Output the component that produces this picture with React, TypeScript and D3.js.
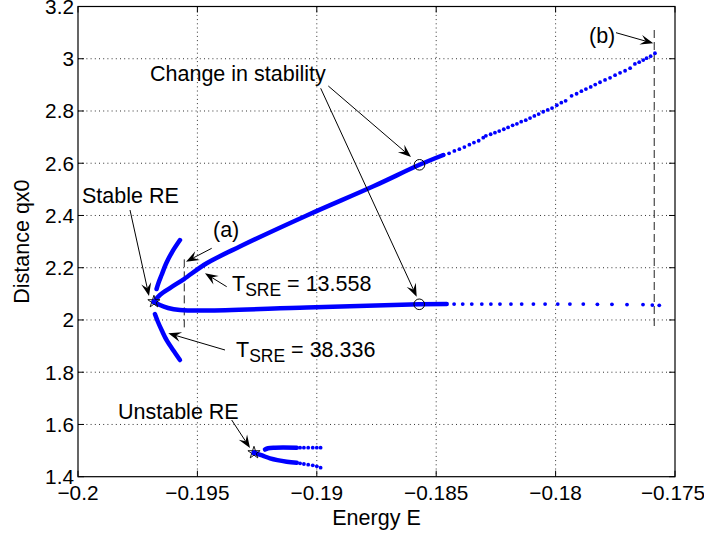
import React from "react";
import * as d3 from "d3";

// ---- axes ----
const xTickValues = [-0.2, -0.195, -0.19, -0.185, -0.18, -0.175];
const xTickLabels = ["\u22120.2", "\u22120.195", "\u22120.19", "\u22120.185", "\u22120.18", "\u22120.175"];
const yTickValues = [1.4, 1.6, 1.8, 2.0, 2.2, 2.4, 2.6, 2.8, 3.0, 3.2];
const yTickLabels = ["1.4", "1.6", "1.8", "2", "2.2", "2.4", "2.6", "2.8", "3", "3.2"];

// ---- stable branch family (continuation from the stable RE) ----
const upperSolidE = [-0.19682, -0.19657, -0.19615, -0.19556, -0.19461, -0.19322, -0.19042, -0.18763, -0.1857, -0.1847];
const upperSolidQ = [2.07, 2.0955, 2.1223, 2.1568, 2.2169, 2.2812, 2.4, 2.5117, 2.594, 2.6315];

const upperDotE = [
  -0.1847, -0.18446, -0.18424, -0.18403, -0.18382, -0.18361, -0.18342, -0.18322, -0.18303, -0.18292,
  -0.18272, -0.18254, -0.18236, -0.18217, -0.18199, -0.1818, -0.18162, -0.18144, -0.18125, -0.18107,
  -0.18089, -0.18071, -0.18052, -0.18033, -0.18015, -0.17995, -0.17976, -0.17958, -0.17933, -0.17912,
  -0.17892, -0.17873, -0.17853, -0.17834, -0.17814, -0.17793, -0.17772, -0.17751, -0.1773, -0.17709,
  -0.17688, -0.17668, -0.1765, -0.17633, -0.17619, -0.17602, -0.17584,
];
const upperDotQ = [
  2.6315, 2.638, 2.647, 2.654, 2.662, 2.671, 2.679, 2.686, 2.698, 2.705,
  2.711, 2.717, 2.723, 2.73, 2.737, 2.745, 2.751, 2.759, 2.765, 2.773,
  2.781, 2.788, 2.797, 2.804, 2.811, 2.822, 2.832, 2.839, 2.858, 2.866,
  2.876, 2.884, 2.892, 2.901, 2.91, 2.919, 2.927, 2.937, 2.946, 2.954,
  2.964, 2.98, 2.987, 2.995, 3.002, 3.01, 3.021,
];

const lowerSolidE = [-0.19682, -0.19657, -0.19623, -0.19573, -0.19461, -0.19042, -0.18571, -0.18456];
const lowerSolidQ = [2.07, 2.057, 2.0458, 2.038, 2.036, 2.0477, 2.06, 2.061];

const lowerDotE = [
  -0.18463, -0.18425, -0.18389, -0.18351, -0.18309, -0.18271, -0.18233, -0.18187, -0.18142, -0.18093,
  -0.18044, -0.17991, -0.1794, -0.17884, -0.17825, -0.17764, -0.17701, -0.17634, -0.17595, -0.17566,
];
const lowerDotQ = [
  2.061, 2.061, 2.061, 2.061, 2.061, 2.061, 2.061, 2.061, 2.061, 2.061,
  2.061, 2.061, 2.061, 2.061, 2.06, 2.06, 2.059, 2.059, 2.057, 2.056,
];

// short arcs either side of the stable RE
const arcUpperE = [-0.19573, -0.19606, -0.19631, -0.1965, -0.19663, -0.19671];
const arcUpperQ = [2.306, 2.26, 2.216, 2.172, 2.1415, 2.1185];
const arcLowerE = [-0.19678, -0.19665, -0.19648, -0.19627, -0.19602, -0.19573];
const arcLowerQ = [2.0228, 1.9922, 1.9577, 1.9195, 1.885, 1.8467];

// ---- unstable RE family ----
const unstUpperSolidE = [-0.19217, -0.19204, -0.19175, -0.19084];
const unstUpperSolidQ = [1.504, 1.509, 1.511, 1.511];
const unstUpperDotE = [-0.1907, -0.19054, -0.19036, -0.19017, -0.19, -0.18984];
const unstUpperDotQ = [1.511, 1.511, 1.511, 1.511, 1.511, 1.511];
const unstLowerSolidE = [-0.19263, -0.19229, -0.19196, -0.19126, -0.19084];
const unstLowerSolidQ = [1.4919, 1.4812, 1.4704, 1.4574, 1.4532];
const unstLowerDotE = [-0.1907, -0.19054, -0.19036, -0.19017, -0.19, -0.18984];
const unstLowerDotQ = [1.4513, 1.4486, 1.4459, 1.4436, 1.4398, 1.4345];

// ---- special points ----
const starE = [-0.19682, -0.19263];
const starQ = [2.07, 1.4919];
const changeE = [-0.1857, -0.18571];
const changeQ = [2.594, 2.06];

// vertical period markers (a) and (b)
const markE = [-0.19555, -0.17587];
const markQlo = [1.9616, 1.974];
const markQhi = [2.232, 3.11];

const W = 704;
const H = 540;
const PLOT = { left: 78, right: 675, top: 6.5, bottom: 476.7 };
const FONT = "'Liberation Sans', Arial, Helvetica, sans-serif";
const FS = 21.5;
const TICK_FS = 20.8;
const BLUE = "#0000ff";

type Pt = [number, number];
const zip = (a: number[], b: number[]): Pt[] => a.map((v, i) => [v, b[i]]);

function Arrow({ x1, y1, x2, y2 }: { x1: number; y1: number; x2: number; y2: number }) {
  const len = 13;
  const half = 5;
  const notch = 0.62;
  const ang = Math.atan2(y2 - y1, x2 - x1);
  const c = Math.cos(ang);
  const s = Math.sin(ang);
  const pt = (back: number, side: number) => [x2 - back * c - side * s, y2 - back * s + side * c];
  const b1 = pt(len, half);
  const b2 = pt(len, -half);
  const nb = pt(len * notch, 0);
  return (
    <g>
      <line x1={x1} y1={y1} x2={nb[0]} y2={nb[1]} stroke="#000" strokeWidth={1} />
      <path d={`M${x2},${y2}L${b1[0]},${b1[1]}L${nb[0]},${nb[1]}L${b2[0]},${b2[1]}Z`} fill="#000" />
    </g>
  );
}

export default function App() {
  const x = d3.scaleLinear().domain([-0.2, -0.175]).range([PLOT.left, PLOT.right]);
  const y = d3.scaleLinear().domain([1.4, 3.2]).range([PLOT.bottom, PLOT.top]);
  const line = d3
    .line<Pt>()
    .x((d) => x(d[0]))
    .y((d) => y(d[1]))
    .curve(d3.curveCatmullRom.alpha(0.5));

  const solidSets: Pt[][] = [
    zip(upperSolidE, upperSolidQ),
    zip(lowerSolidE, lowerSolidQ),
    zip(arcUpperE, arcUpperQ),
    zip(arcLowerE, arcLowerQ),
    zip(unstUpperSolidE, unstUpperSolidQ),
    zip(unstLowerSolidE, unstLowerSolidQ),
  ];
  const dotSets: Pt[][] = [
    zip(upperDotE, upperDotQ),
    zip(lowerDotE, lowerDotQ),
    zip(unstUpperDotE, unstUpperDotQ),
    zip(unstLowerDotE, unstLowerDotQ),
  ];

  const star = d3.symbol(d3.symbolStar, 46)();
  const tickLen = 6;

  return (
    <svg
      width={W}
      height={H}
      viewBox={`0 0 ${W} ${H}`}
      style={{ position: "absolute", left: 0, top: 0, background: "#fff" }}
      fontFamily={FONT}
    >
      <rect x={0} y={0} width={W} height={H} fill="#fff" />

      {/* grid */}
      <g stroke="#333" strokeWidth={1} strokeDasharray="1 3.2">
        {xTickValues.slice(1, -1).map((v) => (
          <line key={`gx${v}`} x1={x(v)} x2={x(v)} y1={PLOT.top} y2={PLOT.bottom} />
        ))}
        {yTickValues.slice(1, -1).map((v) => (
          <line key={`gy${v}`} x1={PLOT.left} x2={PLOT.right} y1={y(v)} y2={y(v)} />
        ))}
      </g>

      {/* ticks on all four sides, pointing inward */}
      <g stroke="#000" strokeWidth={1}>
        {xTickValues.map((v) => (
          <g key={`tx${v}`}>
            <line x1={x(v)} x2={x(v)} y1={PLOT.bottom} y2={PLOT.bottom - tickLen} />
            <line x1={x(v)} x2={x(v)} y1={PLOT.top} y2={PLOT.top + tickLen} />
          </g>
        ))}
        {yTickValues.map((v) => (
          <g key={`ty${v}`}>
            <line x1={PLOT.left} x2={PLOT.left + tickLen} y1={y(v)} y2={y(v)} />
            <line x1={PLOT.right} x2={PLOT.right - tickLen} y1={y(v)} y2={y(v)} />
          </g>
        ))}
      </g>

      {/* period markers */}
      <g stroke="#222" strokeWidth={1} strokeDasharray="8 4">
        {markE.map((e, i) => (
          <line key={`m${i}`} x1={x(e)} x2={x(e)} y1={y(markQhi[i])} y2={y(markQlo[i])} />
        ))}
      </g>

      {/* branches */}
      <g fill="none" stroke={BLUE} strokeWidth={4.5} strokeLinecap="round" strokeLinejoin="round">
        {solidSets.map((s, i) => (
          <path key={`s${i}`} d={line(s) ?? ""} />
        ))}
      </g>
      <g fill={BLUE}>
        {dotSets.map((s, i) =>
          s.map((d, j) => <circle key={`d${i}-${j}`} cx={x(d[0])} cy={y(d[1])} r={1.9} />)
        )}
      </g>

      {/* relative equilibria */}
      {starE.map((e, i) => (
        <g key={`st${i}`} transform={`translate(${x(e)},${y(starQ[i])})`}>
          <circle r={2.6} fill={BLUE} />
          <path d={star ?? ""} fill="none" stroke="#000" strokeWidth={0.9} />
        </g>
      ))}

      {/* stability change points */}
      {changeE.map((e, i) => (
        <circle key={`c${i}`} cx={x(e)} cy={y(changeQ[i])} r={5.3} fill="none" stroke="#000" strokeWidth={1} />
      ))}

      {/* axes box */}
      <rect
        x={PLOT.left}
        y={PLOT.top}
        width={PLOT.right - PLOT.left}
        height={PLOT.bottom - PLOT.top}
        fill="none"
        stroke="#000"
        strokeWidth={1.2}
      />

      {/* tick labels */}
      <g fontSize={TICK_FS} fill="#000">
        {xTickValues.map((v, i) => (
          <text key={`lx${v}`} x={x(v) - (i === xTickValues.length - 1 ? 2 : 0)} y={500} textAnchor="middle">
            {xTickLabels[i]}
          </text>
        ))}
        {yTickValues.map((v, i) => (
          <text key={`ly${v}`} x={74} y={y(v) + 7.5} textAnchor="end">
            {yTickLabels[i]}
          </text>
        ))}
      </g>

      {/* axis titles */}
      <text x={(PLOT.left + PLOT.right) / 2} y={525} fontSize={FS} textAnchor="middle">
        Energy E
      </text>
      <text
        transform={`translate(29,${(PLOT.top + PLOT.bottom) / 2}) rotate(-90)`}
        fontSize={FS}
        textAnchor="middle"
      >
        Distance qx0
      </text>

      {/* annotations */}
      <g fontSize={FS} fill="#000">
        <text x={150} y={80.5}>Change in stability</text>
        <text x={82} y={203}>Stable RE</text>
        <text x={118} y={419}>Unstable RE</text>
        <text x={213} y={237}>(a)</text>
        <text x={589} y={42.5}>(b)</text>
        <text x={232} y={291}>
          T<tspan fontSize={17.5} dy={5}>SRE</tspan>
          <tspan dy={-5}> = 13.558</tspan>
        </text>
        <text x={236} y={357}>
          T<tspan fontSize={17.5} dy={5}>SRE</tspan>
          <tspan dy={-5}> = 38.336</tspan>
        </text>
      </g>

      <Arrow x1={328.3} y1={86} x2={411} y2={157} />
      <Arrow x1={320.7} y1={88.3} x2={416.7} y2={296.7} />
      <Arrow x1={130} y1={210} x2={149} y2={296} />
      <Arrow x1={211.7} y1={248.3} x2={186} y2={261.7} />
      <Arrow x1={226.7} y1={286.7} x2={205} y2={273.3} />
      <Arrow x1={225} y1={350} x2={168.3} y2={333.3} />
      <Arrow x1={616} y1={32.7} x2={653.3} y2={43.3} />
      <Arrow x1={231.7} y1={420} x2={250} y2={448} />
    </svg>
  );
}
